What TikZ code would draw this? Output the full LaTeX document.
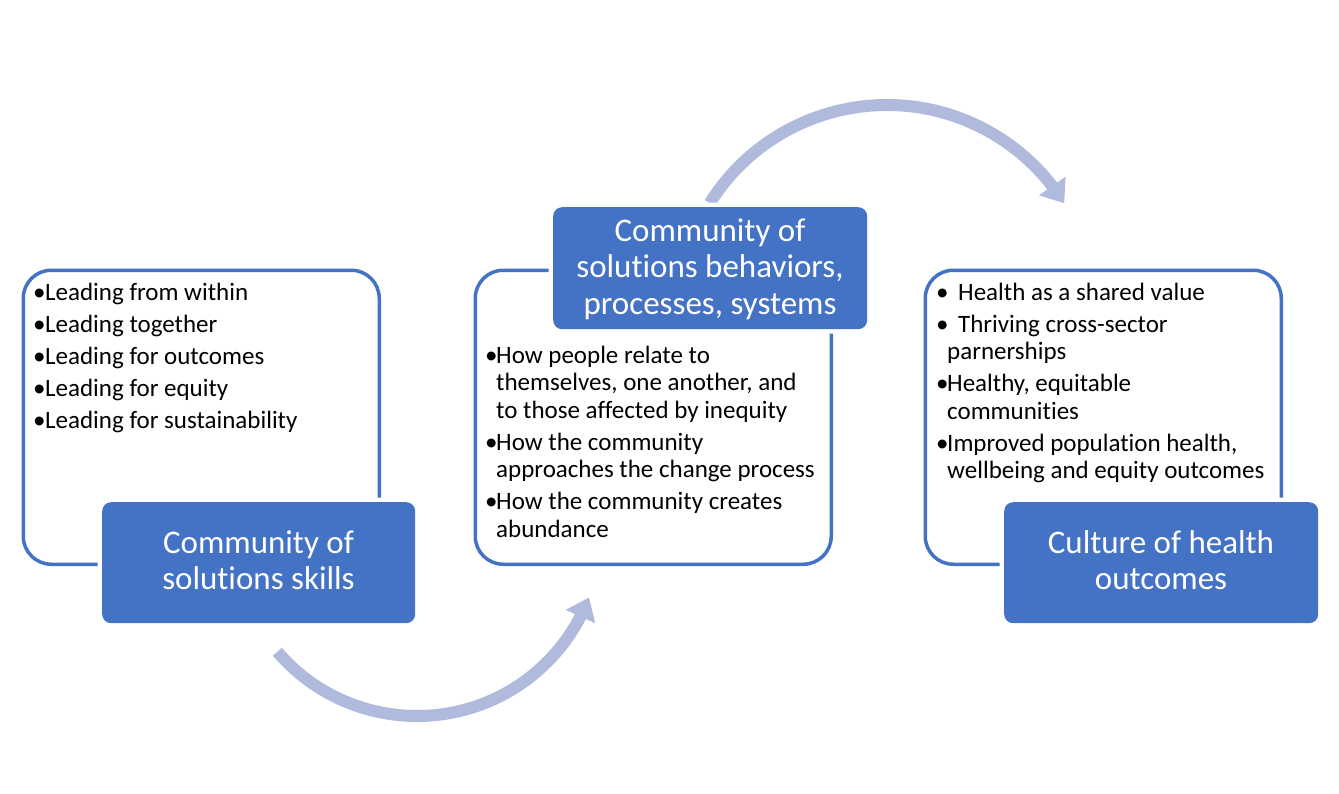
\documentclass[tikz,border=0pt]{standalone}
\usepackage{fontspec}
\setmainfont{Carlito}[Ligatures={NoCommon}]
\usetikzlibrary{arrows.meta,bending,calc}
\definecolor{accent}{RGB}{68,114,196}
\definecolor{arrowc}{RGB}{175,186,221}
\newcommand{\bul}[1][11pt]{\makebox[#1][l]{•}}
\tikzset{
  outlinebox/.style={draw=accent, line width=3.5pt, rounded corners=28pt, anchor=north west, inner sep=0pt},
  titlebox/.style={fill=accent, rounded corners=9pt, anchor=north west, inner sep=0pt,
    preaction={draw=white, line width=9pt}},
  bodytext/.style={anchor=base west, inner sep=0pt, font=\fontsize{25}{27.5}\selectfont},
  titletext/.style={anchor=base, inner sep=0pt, text=white, font=\fontsize{33}{36.5}\selectfont},
  flowarrow/.style={draw=arrowc, line width=12pt, -{Triangle[width=31pt,length=21pt,flex]}}
}
\begin{document}
\begin{tikzpicture}[x=1pt,y=-1pt]
\useasboundingbox (0,0) rectangle (1339,793);
% arrows
\coordinate (a1s) at ($(417,532)+(139.4:184)$);
\draw[flowarrow] (a1s) arc[start angle=139.4, end angle=20.8, radius=184];
\coordinate (a2s) at ($(887,314)+(-148:209)$);
\draw[flowarrow] (a2s) arc[start angle=-148, end angle=-32, radius=209];
% outline boxes
\node[outlinebox, minimum width=356pt, minimum height=294pt] (o1) at (21.5,268.5) {};
\node[outlinebox, minimum width=356pt, minimum height=294pt] (o2) at (473.5,268.5) {};
\node[outlinebox, minimum width=356pt, minimum height=294pt] (o3) at (923.5,268.5) {};
% title boxes
\node[titlebox, minimum width=313pt, minimum height=121pt] (b1) at (102,502) {};
\node[titlebox, minimum width=314pt, minimum height=122pt] (b2) at (553,207) {};
\node[titlebox, minimum width=314pt, minimum height=121pt] (b3) at (1004,502) {};
% titles
\node[titletext] (h1) at (258.5,553) {\parbox[t]{310pt}{\centering Community of\\solutions skills\par}};
\node[titletext] (h2) at (710,241) {\parbox[t]{310pt}{\centering Community of\\solutions behaviors,\\processes, systems\par}};
\node[titletext] (h3) at (1161,553) {\parbox[t]{310pt}{\centering Culture of health\\outcomes\par}};
% body texts
\node[bodytext] (t1) at (33,300) {\parbox[t]{340pt}{%
\bul[12pt]Leading from within\\[4.5pt]
\bul[12pt]Leading together\\[4.5pt]
\bul[12pt]Leading for outcomes\\[4.5pt]
\bul[12pt]Leading for equity\\[4.5pt]
\bul[12pt]Leading for sustainability}};
\node[bodytext] (t2) at (485,363) {\parbox[t]{340pt}{%
\bul How people relate to\\
\hspace*{11pt}themselves, one another, and\\
\hspace*{11pt}to those affected by inequity\\[4.5pt]
\bul How the community\\
\hspace*{11pt}approaches the change process\\[4.5pt]
\bul How the community creates\\
\hspace*{11pt}abundance}};
\node[bodytext] (t3) at (936,300) {\parbox[t]{340pt}{%
\bul[22pt]Health as a shared value\\[4.5pt]
\bul[22pt]Thriving cross-sector\\
\hspace*{11pt}parnerships\\[4.5pt]
\bul Healthy, equitable\\
\hspace*{11pt}communities\\[4.5pt]
\bul Improved population health,\\
\hspace*{11pt}wellbeing and equity outcomes}};
\end{tikzpicture}
\end{document}
